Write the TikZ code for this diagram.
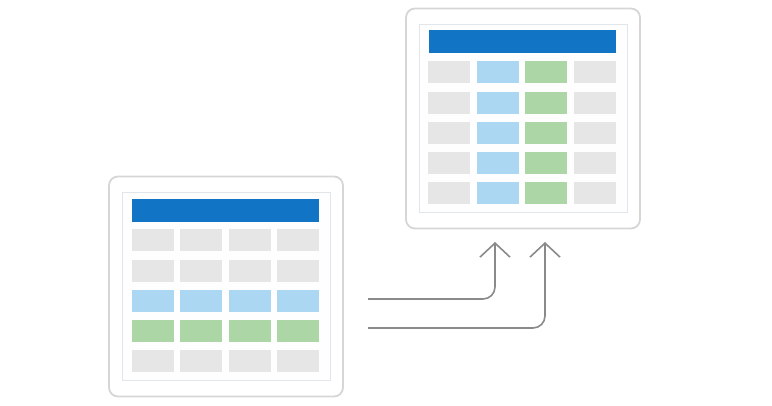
\documentclass[tikz,border=0pt]{standalone}
\usepackage{tikz}
\usetikzlibrary{arrows.meta}
\usepackage{xcolor}
\definecolor{tbleu}{RGB}{18,116,196}
\definecolor{tciel}{RGB}{172,215,243}
\definecolor{tvert}{RGB}{172,214,166}
\definecolor{tgris}{RGB}{230,230,230}
\definecolor{tbord}{RGB}{214,214,214}
\definecolor{tfond}{RGB}{224,230,234}
\definecolor{tfleche}{RGB}{138,138,138}

\begin{document}
\begin{tikzpicture}[x=1pt, y=-1pt,
  cadre/.style={draw=tbord, line width=1.8pt, fill=white, rounded corners=9pt,
    minimum width=234pt, minimum height=220pt, inner sep=0pt},
  fond/.style={draw=tfond, line width=0.8pt, fill=white!97!tfond,
    minimum width=208pt, minimum height=188pt, inner sep=0pt},
  entete/.style={fill=tbleu, minimum width=187pt, minimum height=23pt, inner sep=0pt},
  cell/.style={minimum width=42pt, minimum height=22pt, inner sep=0pt},
  fleche/.style={draw=tfleche, line width=1.6pt, rounded corners=12pt,
    -{Straight Barb[length=14pt,width=30pt,line width=1.6pt]}}]
\useasboundingbox (0,0) rectangle (772,406);
% left table: rows
\node[cadre] (gauche) at (226,286.5) {};
\node[fond] (gfond) at (226,286) {};
\node[entete] (gtete) at (225.5,210.5) {};
\foreach \i/\c in {1/tgris,2/tgris,3/tciel,4/tvert,5/tgris}
  \foreach \j in {1,...,4}
    {\node[cell, fill=\c] (g-\i-\j) at ({153+48.33*(\j-1)},{240.5+30.25*(\i-1)}) {};}
% right table: columns
\node[cadre] (droite) at (523,118.5) {};
\node[fond] (dfond) at (523,118.5) {};
\node[entete] (dtete) at (522,42) {};
\foreach \j/\c in {1/tgris,2/tciel,3/tvert,4/tgris}
  \foreach \i in {1,...,5}
    {\node[cell, fill=\c] (d-\i-\j) at ({449+48.67*(\j-1)},{72.5+30.1*(\i-1)}) {};}
% arrows
\coordinate (s1) at (368,299); \coordinate (e1) at (495,242);
\coordinate (s2) at (368,328); \coordinate (e2) at (545,242);
\draw[fleche] (s1) -| (e1);
\draw[fleche] (s2) -| (e2);
\end{tikzpicture}
\end{document}
